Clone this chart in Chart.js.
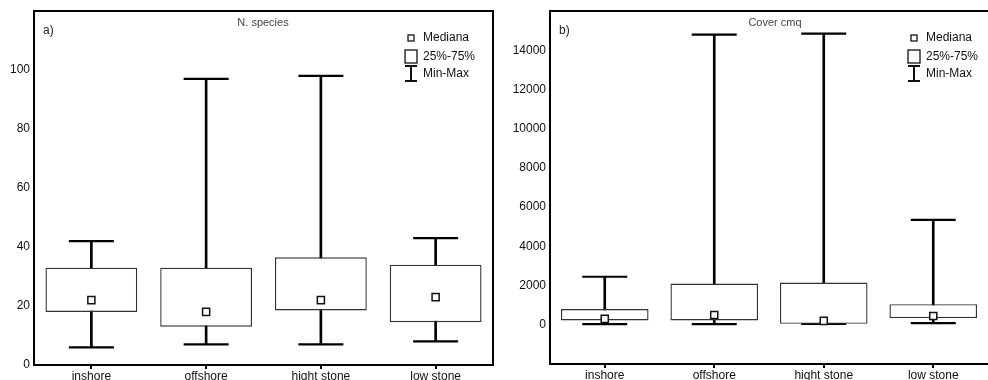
<!DOCTYPE html>
<html>
<head>
<meta charset="utf-8">
<script src="https://cdn.jsdelivr.net/npm/chart.js@4/dist/chart.umd.min.js"></script>
<style>
  html, body { margin: 0; padding: 0; background: #fff; overflow: hidden; width: 988px; height: 380px; }
  .panel { position: absolute; top: 0; width: 494px; height: 392px; }
  #pa { left: 0; }
  #pb { left: 494px; }
</style>
</head>
<body>
<div class="panel" id="pa"><canvas id="ca" width="494" height="392"></canvas></div>
<div class="panel" id="pb"><canvas id="cb" width="494" height="392"></canvas></div>
<script>
// ---- data ----
const categories = ["inshore", "offshore", "hight stone", "low stone"];

// a) N. species
const speciesMin    = [6, 7, 7, 8];
const speciesQ1     = [18, 13, 18.5, 14.5];
const speciesMedian = [22, 18, 22, 23];
const speciesQ3     = [33, 33, 36.5, 34];
const speciesMax    = [42, 97, 98, 43];
const speciesTicks  = [0, 20, 40, 60, 80, 100];

// b) Cover cmq
const coverMin    = [30, 30, 40, 80];
const coverQ1     = [220, 220, 50, 340];
const coverMedian = [300, 500, 200, 450];
const coverQ3     = [800, 2100, 2150, 1050];
const coverMax    = [2450, 14800, 14850, 5350];
const coverTicks  = [0, 2000, 4000, 6000, 8000, 10000, 12000, 14000];

const legendLabels = ["Mediana", "25%-75%", "Min-Max"];

const FONT = 'Arial, "Liberation Sans", sans-serif';

const framePlugin = {
  id: 'frame',
  afterDraw(chart, args, opts) {
    const ctx = chart.ctx, a = chart.chartArea;
    ctx.save();
    ctx.strokeStyle = '#000';
    ctx.lineWidth = 2;
    ctx.beginPath();
    ctx.moveTo(a.left, a.top);
    ctx.lineTo(a.right + 1, a.top);
    if (opts.right) {
      ctx.moveTo(a.right, a.top);
      ctx.lineTo(a.right, a.bottom);
    }
    ctx.stroke();

    // panel letter and title
    ctx.fillStyle = '#222';
    ctx.font = '12px ' + FONT;
    ctx.textBaseline = 'middle';
    ctx.textAlign = 'left';
    ctx.fillText(opts.letter, opts.letterX, 31);
    ctx.fillStyle = '#444';
    ctx.font = '11px ' + FONT;
    ctx.textAlign = 'center';
    ctx.fillText(opts.title, opts.titleX, 23);

    // legend
    const sx = opts.legendX;      // symbol centre x
    const tx = sx + 12;           // text x
    ctx.fillStyle = '#111';
    ctx.font = '12px ' + FONT;
    ctx.textAlign = 'left';
    ctx.fillText(legendLabels[0], tx, 38);
    ctx.fillText(legendLabels[1], tx, 57);
    ctx.fillText(legendLabels[2], tx, 74);
    ctx.strokeStyle = '#111';
    ctx.lineWidth = 1.3;
    ctx.strokeRect(sx - 3, 35, 6, 6);
    ctx.strokeRect(sx - 6, 50, 12, 13);
    ctx.lineWidth = 2;
    ctx.beginPath();
    ctx.moveTo(sx, 66); ctx.lineTo(sx, 81);
    ctx.moveTo(sx - 6, 66); ctx.lineTo(sx + 6, 66);
    ctx.moveTo(sx - 6, 81); ctx.lineTo(sx + 6, 81);
    ctx.stroke();
    ctx.restore();
  }
};

function zeroPad(s) { s.paddingLeft = 0; s.paddingRight = 0; s.paddingTop = 0; s.paddingBottom = 0; }

function makeChart(canvasId, d, cfg) {
  const ranges = (a, b) => a.map((v, i) => [v, b[i]]);
  return new Chart(document.getElementById(canvasId), {
    type: 'bar',
    data: {
      labels: categories,
      datasets: [
        {
          type: 'bar', label: 'whisker', data: ranges(d.min, d.max),
          backgroundColor: '#000', borderWidth: 0, barThickness: 2,
          grouped: false, order: 5
        },
        {
          type: 'line', label: 'min', data: d.min, showLine: false,
          pointStyle: 'line', pointRadius: 22.5, pointBorderWidth: 2.2,
          pointBorderColor: '#000', order: 4
        },
        {
          type: 'line', label: 'max', data: d.max, showLine: false,
          pointStyle: 'line', pointRadius: 22.5, pointBorderWidth: 2.2,
          pointBorderColor: '#000', order: 4
        },
        {
          type: 'bar', label: '25%-75%', data: ranges(d.q1, d.q3),
          backgroundColor: '#fff', borderColor: '#333', borderWidth: 1.4,
          borderSkipped: false, barPercentage: 0.8, categoryPercentage: 1,
          grouped: false, order: 3
        },
        {
          type: 'line', label: 'Mediana', data: d.median, showLine: false,
          pointStyle: 'rect', pointRadius: 5, pointBorderWidth: 1.5,
          pointBorderColor: '#111', pointBackgroundColor: '#fff', order: 1
        }
      ]
    },
    options: {
      responsive: false,
      animation: false,
      events: [],
      clip: false,
      layout: { autoPadding: false, padding: { top: 11, left: 0, right: cfg.padRight, bottom: 0 } },
      plugins: {
        legend: { display: false },
        tooltip: { enabled: false },
        frame: cfg.frame
      },
      scales: {
        x: {
          type: 'category',
          offset: true,
          grid: { display: true, drawOnChartArea: false, drawTicks: true, tickLength: 4, offset: false, color: '#000', lineWidth: 2 },
          border: { display: true, color: '#000', width: 2 },
          ticks: { color: '#111', font: { size: 12, family: FONT }, padding: 0, maxRotation: 0, autoSkip: false },
          afterFit(s) { s.height = cfg.xHeight; zeroPad(s); }
        },
        y: {
          min: cfg.yMin, max: cfg.yMax,
          afterBuildTicks(s) { s.ticks = cfg.ticks.map(v => ({ value: v })); },
          grid: { display: false, drawTicks: false },
          border: { display: true, color: '#000', width: 2 },
          ticks: { color: '#111', font: { size: 12, family: FONT }, padding: 4, callback: v => String(v) },
          afterFit(s) { s.width = cfg.yWidth; zeroPad(s); }
        }
      }
    },
    plugins: [framePlugin]
  });
}

makeChart('ca',
  { min: speciesMin, q1: speciesQ1, median: speciesMedian, q3: speciesQ3, max: speciesMax },
  { yMin: 0, yMax: 120, ticks: speciesTicks, yWidth: 34, xHeight: 27, padRight: 1,
    frame: { right: true, letter: 'a)', letterX: 43, title: 'N. species', titleX: 263, legendX: 411 } });

makeChart('cb',
  { min: coverMin, q1: coverQ1, median: coverMedian, q3: coverQ3, max: coverMax },
  { yMin: -2000, yMax: 16000, ticks: coverTicks, yWidth: 56, xHeight: 28, padRight: 0,
    frame: { right: false, letter: 'b)', letterX: 65, title: 'Cover cmq', titleX: 281, legendX: 420 } });
</script>
</body>
</html>
